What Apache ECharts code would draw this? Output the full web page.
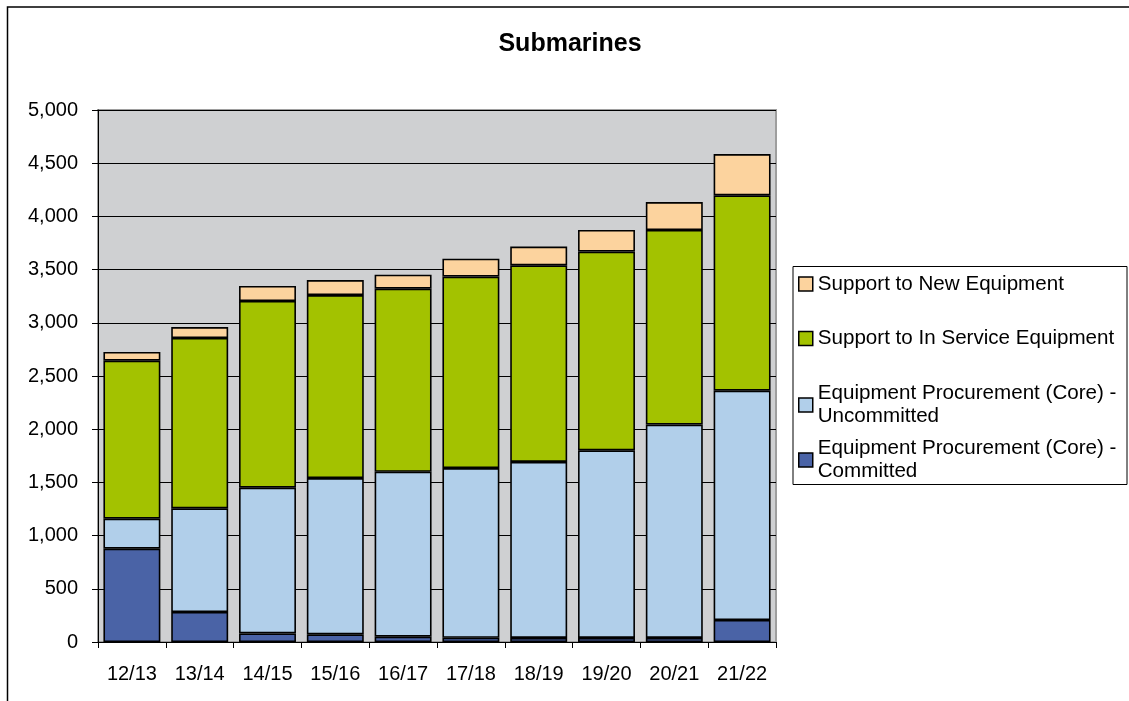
<!DOCTYPE html>
<html>
<head>
<meta charset="utf-8">
<title>Submarines</title>
<script src="https://cdn.jsdelivr.net/npm/echarts@6/dist/echarts.min.js"></script>
<style>
  html, body { margin: 0; padding: 0; background: #fff; }
  #chart { width: 1129px; height: 701px; }
</style>
</head>
<body>
<div id="chart"></div>
<script>
// Financial years on the category axis
const years = ['12/13', '13/14', '14/15', '15/16', '16/17', '17/18', '18/19', '19/20', '20/21', '21/22'];

// Stacked spend per year (£m), bottom to top
const procurementCommitted   = [877, 282, 81, 72, 50, 40, 38, 38, 38, 207];
const procurementUncommitted = [282, 974, 1369, 1469, 1550, 1595, 1654, 1763, 2005, 2155];
const supportInService       = [1485, 1601, 1755, 1720, 1721, 1799, 1848, 1868, 1829, 1836];
const supportNew             = [82, 103, 141, 141, 131, 169, 176, 203, 263, 388];

// Value axis ticks
const yMin = 0, yMax = 5000, yStep = 500;

const seriesNames = {
  committed: 'Equipment Procurement (Core) -\nCommitted',
  uncommitted: 'Equipment Procurement (Core) -\nUncommitted',
  inService: 'Support to In Service Equipment',
  newEquip: 'Support to New Equipment'
};

const FONT = '"Liberation Sans", Arial, sans-serif';
const chart = echarts.init(document.getElementById('chart'), null, { renderer: 'canvas' });

function barSeries(name, data, color) {
  return {
    name: name,
    type: 'bar',
    stack: 'total',
    data: data,
    barCategoryGap: '16%',
    itemStyle: { color: color, borderColor: '#000', borderWidth: 1.6 },
    emphasis: { disabled: true }
  };
}

const legendCommon = {
  orient: 'vertical',
  left: 798,
  padding: 0,
  itemWidth: 14,
  itemHeight: 14,
  icon: 'rect',
  selectedMode: false,
  itemStyle: { borderColor: '#000', borderWidth: 1.5 },
  textStyle: { fontFamily: FONT, fontSize: 20.6, color: '#000', lineHeight: 23 }
};

const option = {
  backgroundColor: '#fff',
  animation: false,
  title: {
    text: 'Submarines',
    left: 565,
    top: 27,
    textAlign: 'center',
    textStyle: { fontFamily: FONT, fontSize: 25, fontWeight: 'bold', color: '#000' }
  },
  grid: {
    left: 98, top: 110, width: 678, height: 532,
    show: true,
    backgroundColor: '#CFD0D2',
    borderColor: '#9E9E9E',
    borderWidth: 2
  },
  legend: [
    Object.assign({}, legendCommon, { top: 272.5, data: [seriesNames.newEquip] }),
    Object.assign({}, legendCommon, { top: 327, data: [seriesNames.inService] }),
    Object.assign({}, legendCommon, { top: 370.5, data: [{ name: seriesNames.uncommitted, textStyle: { padding: [23, 0, 0, 0] } }] }),
    Object.assign({}, legendCommon, { top: 425.5, data: [{ name: seriesNames.committed, textStyle: { padding: [23, 0, 0, 0] } }] })
  ],
  xAxis: {
    type: 'category',
    data: years,
    axisLine: { lineStyle: { color: '#000', width: 1 } },
    axisTick: { show: true, length: 6, lineStyle: { color: '#000' } },
    axisLabel: { fontFamily: FONT, fontSize: 20, color: '#000', margin: 22 },
    splitLine: { show: false }
  },
  yAxis: {
    type: 'value',
    min: yMin, max: yMax, interval: yStep,
    axisLine: { show: true, lineStyle: { color: '#000', width: 1 } },
    axisTick: { show: true, length: 6, lineStyle: { color: '#000' } },
    axisLabel: {
      fontFamily: FONT, fontSize: 20, color: '#000', margin: 20,
      formatter: v => v.toLocaleString('en-US')
    },
    splitLine: { show: true, lineStyle: { color: '#000', width: 1 } }
  },
  graphic: [
    {
      type: 'rect',
      left: 5, top: 4.5,
      shape: { x: 0, y: 0, width: 1200, height: 800 },
      style: { fill: 'none', stroke: '#000', lineWidth: 1.5 },
      silent: true, z: -1
    },
    {
      type: 'rect',
      shape: { x: 793, y: 266.5, width: 334, height: 218 },
      style: { fill: '#fff', stroke: '#000', lineWidth: 1 },
      silent: true, z: -1
    }
  ],
  series: [
    barSeries(seriesNames.committed, procurementCommitted, '#4A63A6'),
    barSeries(seriesNames.uncommitted, procurementUncommitted, '#B1CFEA'),
    barSeries(seriesNames.inService, supportInService, '#A3C200'),
    barSeries(seriesNames.newEquip, supportNew, '#FCD39E')
  ]
};

chart.setOption(option);
</script>
</body>
</html>
